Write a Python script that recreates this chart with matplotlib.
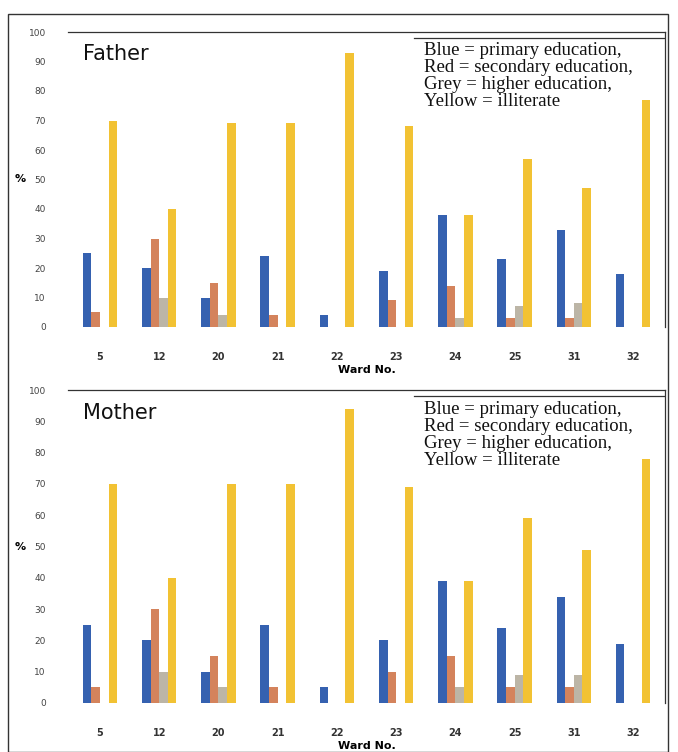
import matplotlib.pyplot as plt
import numpy as np
from matplotlib.patches import Rectangle
from matplotlib.lines import Line2D

wards = ['5', '12', '20', '21', '22', '23', '24', '25', '31', '32']

# father: % per ward
father_primary   = [25, 20, 10, 24, 4, 19, 38, 23, 33, 18]
father_secondary = [5, 30, 15, 4, 0, 9, 14, 3, 3, 0]
father_higher    = [0, 10, 4, 0, 0, 0, 3, 7, 8, 0]
father_illit     = [70, 40, 69, 69, 93, 68, 38, 57, 47, 77]

# mother: % per ward
mother_primary   = [25, 20, 10, 25, 5, 20, 39, 24, 34, 19]
mother_secondary = [5, 30, 15, 5, 0, 10, 15, 5, 5, 0]
mother_higher    = [0, 10, 5, 0, 0, 0, 5, 9, 9, 0]
mother_illit     = [70, 40, 70, 70, 94, 69, 39, 59, 49, 78]

colors = ['#3561b0', '#d4835c', '#bcb5a6', '#f2c233']
legend_txt = ('Blue = primary education,\nRed = secondary education,\n'
              'Grey = higher education,\nYellow = illiterate')

W, H = 678, 752
fig = plt.figure(figsize=(W / 100, H / 100), dpi=100)
fig.patch.set_facecolor('white')

# scanned page frame
fig.add_artist(Rectangle((8 / W, 0), 660 / W, 1 - 14 / H, transform=fig.transFigure,
                         fill=False, edgecolor='#333333', linewidth=1.0))


def panel(rect, title, series):
    ax = fig.add_axes(rect)
    x = np.arange(len(wards))
    w = 0.145
    for i, (vals, c) in enumerate(zip(series, colors)):
        ax.bar(x + (i - 1.5) * w, vals, width=w, color=c, linewidth=0)
    ax.set_xlim(-0.54, 9.54)
    ax.set_ylim(0, 100)
    ax.set_yticks(range(0, 101, 10))
    ax.set_xticks(x)
    ax.set_xticklabels(wards)
    ax.tick_params(axis='y', length=0, pad=16, labelsize=6.5, labelcolor='#444444')
    ax.tick_params(axis='x', length=0, pad=18, labelsize=7, labelcolor='#333333')
    for lab in ax.get_xticklabels():
        lab.set_fontweight('bold')
    ax.spines[['left', 'bottom']].set_visible(False)
    ax.spines['top'].set_color('#333333')
    ax.spines['right'].set_color('#333333')
    ax.spines['top'].set_linewidth(0.9)
    ax.spines['right'].set_linewidth(0.9)
    ax.set_xlabel('Ward No.', fontsize=8, fontweight='bold', labelpad=2)
    ax.set_ylabel('%', fontsize=8, fontweight='bold', rotation=0, labelpad=6,
                  va='center')
    ax.text(0.025, 0.925, title, transform=ax.transAxes, fontsize=15,
            va='center', ha='left', color='#111111')
    ax.add_line(Line2D([0.58, 1.0], [0.98, 0.98], transform=ax.transAxes,
                       color='#333333', linewidth=0.9))
    ax.text(0.596, 0.965, legend_txt, transform=ax.transAxes, fontsize=13.5,
            family='Liberation Serif', va='top', ha='left', linespacing=1.0,
            color='#111111')
    return ax


panel([68 / W, 1 - 327 / H, 597 / W, 295 / H], 'Father',
      [father_primary, father_secondary, father_higher, father_illit])
panel([68 / W, 1 - 703 / H, 597 / W, 313 / H], 'Mother',
      [mother_primary, mother_secondary, mother_higher, mother_illit])

plt.savefig('out.png', dpi=100, facecolor='white')
